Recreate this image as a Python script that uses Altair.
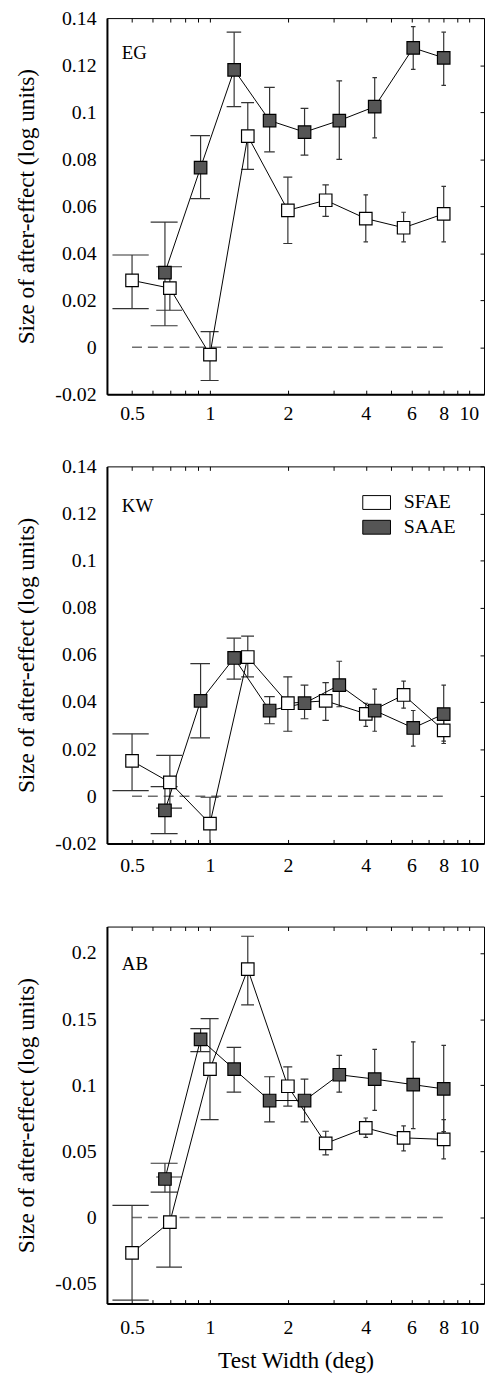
import altair as alt
import pandas as pd

FONT = "Liberation Serif, Times New Roman, serif"
SERIES = ["SFAE", "SAAE"]
SUBJECTS = ["EG", "KW", "AB"]

# test widths (deg)
sfae_x = [0.5, 0.7, 1.0, 1.4, 2.0, 2.8, 4.0, 5.6, 8.0]
saae_x = [0.67, 0.92, 1.24, 1.7, 2.32, 3.16, 4.33, 6.1, 8.0]

# EG
eg_sfae = [0.0284, 0.0251, -0.0032, 0.0898, 0.0582, 0.0625, 0.0547, 0.0508, 0.0567]
eg_sfae_lo = [0.0164, 0.0157, -0.0142, 0.0756, 0.0441, 0.0556, 0.0448, 0.0448, 0.0448]
eg_sfae_hi = [0.0392, 0.0342, 0.0066, 0.1040, 0.0723, 0.0690, 0.0648, 0.0574, 0.0684]
eg_saae = [0.0317, 0.0764, 0.1180, 0.0964, 0.0915, 0.0964, 0.1023, 0.1273, 0.1231]
eg_saae_lo = [0.0091, 0.0632, 0.1023, 0.0831, 0.0817, 0.0799, 0.0890, 0.1182, 0.1114]
eg_saae_hi = [0.0532, 0.0900, 0.1340, 0.1105, 0.1016, 0.1133, 0.1147, 0.1364, 0.1340]

# KW
kw_sfae = [0.0150, 0.0059, -0.0116, 0.0591, 0.0395, 0.0405, 0.0350, 0.0430, 0.0280]
kw_sfae_lo = [0.0024, -0.0050, -0.0230, 0.0507, 0.0276, 0.0322, 0.0297, 0.0374, 0.0224]
kw_sfae_hi = [0.0265, 0.0174, -0.0004, 0.0680, 0.0507, 0.0482, 0.0395, 0.0489, 0.0339]
kw_saae = [-0.0060, 0.0405, 0.0587, 0.0364, 0.0395, 0.0472, 0.0364, 0.0290, 0.0349]
kw_saae_lo = [-0.0158, 0.0248, 0.0497, 0.0308, 0.0329, 0.0380, 0.0276, 0.0213, 0.0234]
kw_saae_hi = [0.0041, 0.0563, 0.0671, 0.0423, 0.0472, 0.0573, 0.0455, 0.0364, 0.0472]

# AB
ab_sfae = [-0.0267, -0.0034, 0.1122, 0.1878, 0.0993, 0.0561, 0.0678, 0.0603, 0.0591]
ab_sfae_lo = [-0.0623, -0.0374, 0.0741, 0.1608, 0.0843, 0.0474, 0.0606, 0.0504, 0.0444]
ab_sfae_hi = [0.0092, 0.0307, 0.1504, 0.2127, 0.1140, 0.0653, 0.0753, 0.0693, 0.0741]
ab_saae = [0.0292, 0.1347, 0.1122, 0.0885, 0.0885, 0.1080, 0.1047, 0.1005, 0.0973]
ab_saae_lo = [0.0192, 0.1254, 0.0948, 0.0723, 0.0723, 0.0948, 0.0810, 0.0673, 0.0650]
ab_saae_hi = [0.0411, 0.1429, 0.1287, 0.1065, 0.1047, 0.1227, 0.1272, 0.1329, 0.1302]

zero_x = [0.5, 8.0]
x_labels = [0.5, 1, 2, 4, 6, 8, 10]
x_minor = [0.5, 0.6, 0.7, 0.8, 0.9, 1, 2, 3, 4, 5, 6, 7, 8, 9, 10]
y_ticks_a = [-0.02, 0, 0.02, 0.04, 0.06, 0.08, 0.1, 0.12, 0.14]
y_ticks_b = [-0.05, 0, 0.05, 0.1, 0.15, 0.2]
X_DOMAIN = [0.4, 11.45]


def panel(name, sfae, sfae_lo, sfae_hi, saae, saae_lo, saae_hi, ydom, yticks,
          height, label_y, xlab_pad, legend, xtitle):
    rows = []
    for s, xs, ys, los, his in [(SERIES[0], sfae_x, sfae, sfae_lo, sfae_hi),
                                (SERIES[1], saae_x, saae, saae_lo, saae_hi)]:
        for x, y, lo, hi in zip(xs, ys, los, his):
            rows.append({"series": s, "x": x, "y": y, "lo": lo, "hi": hi})
    df = pd.DataFrame(rows)
    xs = alt.Scale(type="log", domain=X_DOMAIN, nice=False)
    ys = alt.Scale(domain=ydom, nice=False, zero=False)

    main_x = alt.Axis(orient="bottom", values=x_labels, labelExpr="'' + datum.value",
                      ticks=False, tickSize=0, domain=True, domainWidth=2, domainColor="black",
                      labelPadding=xlab_pad, labelFlush=False, labelOverlap=False, grid=False,
                      titlePadding=12)
    main_y = alt.Axis(orient="left", values=yticks, labelExpr="'' + datum.value",
                      ticks=False, tickSize=0, domain=True, domainWidth=2, domainColor="black",
                      labelPadding=11, labelFlush=False, labelOverlap=False, grid=False,
                      titlePadding=17)
    top_ticks = alt.Axis(orient="top", values=x_minor, labels=False, domain=False,
                         ticks=True, tickSize=4, offset=-4, tickColor="black", grid=False)
    bot_ticks = alt.Axis(orient="bottom", values=x_minor, labels=False, domain=False,
                         ticks=True, tickSize=4, offset=-4, tickColor="black", grid=False)
    right_ticks = alt.Axis(orient="right", values=yticks, labels=False, domain=False,
                           ticks=True, tickSize=4, offset=-4, tickColor="black", grid=False)

    zdf = pd.DataFrame({"x": [zero_x[0]], "x2": [zero_x[1]], "y": [0.0]})
    zero = alt.Chart(zdf).mark_rule(color="#6e6e6e", strokeDash=[10, 6], strokeWidth=1.5).encode(
        x=alt.X("x:Q", scale=xs, axis=main_x, title=xtitle),
        x2="x2:Q",
        y=alt.Y("y:Q", scale=ys, axis=main_y, title="Size of after-effect (log units)"),
    )
    base = alt.Chart(df)
    err = base.mark_rule(color="#333333", strokeWidth=1.2, clip=True).encode(
        x=alt.X("x:Q", scale=xs, axis=top_ticks, title=None),
        y=alt.Y("lo:Q", scale=ys, axis=right_ticks, title=None),
        y2="hi:Q",
    )
    caps = base.transform_fold(["lo", "hi"], as_=["end", "v"]).transform_calculate(
        xl="min(datum.x - 0.08, datum.x * 0.98)",
        xr="max(datum.x + 0.08, datum.x / 0.98)",
    ).mark_rule(color="#333333", strokeWidth=1.2, clip=True).encode(
        x=alt.X("xl:Q", scale=xs, axis=bot_ticks, title=None),
        x2="xr:Q",
        y=alt.Y("v:Q", scale=ys, axis=None),
    )
    line = base.mark_line(color="black", strokeWidth=1).encode(
        x=alt.X("x:Q", scale=xs, axis=None),
        y=alt.Y("y:Q", scale=ys, axis=None),
        detail="series:N",
    )
    fill_scale = alt.Scale(domain=SERIES, range=["white", "#555555"])
    if legend:
        leg = alt.Legend(orient="none", legendX=258, legendY=22, title=None, padding=0,
                         symbolType="M-1,-0.5H1V0.5H-1Z", symbolSize=784,
                         symbolStrokeColor="black", symbolStrokeWidth=1,
                         labelFont=FONT, labelFontSize=20, labelColor="black",
                         labelOffset=13, rowPadding=-4)
    else:
        leg = None
    pts = base.mark_point(shape="square", size=160, filled=True, stroke="black",
                          strokeWidth=1.2, opacity=1).encode(
        x=alt.X("x:Q", scale=xs, axis=None),
        y=alt.Y("y:Q", scale=ys, axis=None),
        fill=alt.Fill("series:N", scale=fill_scale, legend=leg),
    )
    lab = alt.Chart(pd.DataFrame({"label": [name]})).mark_text(
        align="left", baseline="alphabetic", font=FONT, fontSize=19, color="black"
    ).encode(x=alt.value(15), y=alt.value(label_y), text="label:N")

    return alt.layer(zero, err, caps, line, pts, lab).resolve_axis(
        x="independent", y="independent"
    ).properties(width=381, height=height)


p1 = panel(SUBJECTS[0], eg_sfae, eg_sfae_lo, eg_sfae_hi, eg_saae, eg_saae_lo, eg_saae_hi,
           [-0.02, 0.14], y_ticks_a, 380, 41, 10, False, None)
p2 = panel(SUBJECTS[1], kw_sfae, kw_sfae_lo, kw_sfae_hi, kw_saae, kw_saae_lo, kw_saae_hi,
           [-0.02, 0.14], y_ticks_a, 381, 46, 12, True, None)
p3 = panel(SUBJECTS[2], ab_sfae, ab_sfae_lo, ab_sfae_hi, ab_saae, ab_saae_lo, ab_saae_hi,
           [-0.065, 0.22], y_ticks_b, 381, 44, 14, False, "Test Width (deg)")

inner = alt.vconcat(p1, p2, spacing=31).resolve_legend(fill="independent")
chart = alt.vconcat(inner, p3, spacing=50).resolve_legend(
    fill="independent"
).properties(
    padding={"left": 5, "top": -8, "right": 0, "bottom": 0}
).configure_view(
    stroke="black", strokeWidth=1
).configure_axis(
    labelFont=FONT, titleFont=FONT, labelFontSize=20, titleFontSize=23.5,
    labelColor="black", titleColor="black", titleFontWeight="normal"
)

chart.save("out.html", embed_options={"renderer": "svg", "actions": False})
